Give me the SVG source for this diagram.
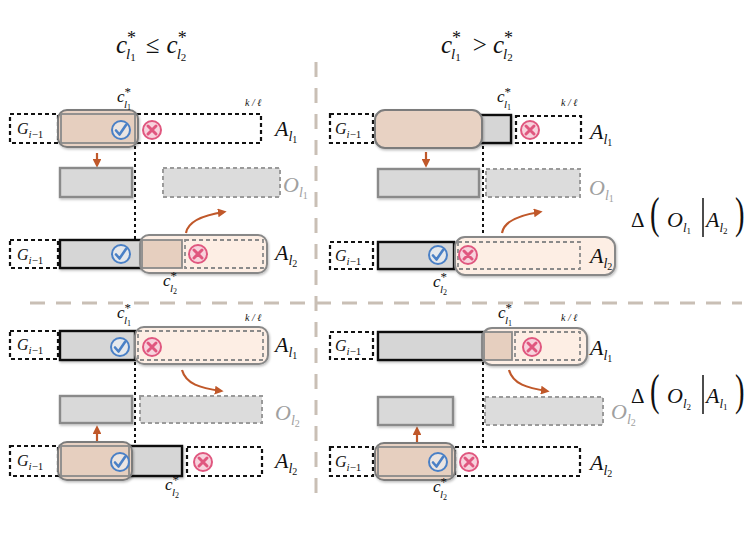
<svg xmlns="http://www.w3.org/2000/svg" xmlns:xlink="http://www.w3.org/1999/xlink" width="756" height="560" viewBox="0 0 756 560">
<style>
text{font-family:"Liberation Serif","Times New Roman","DejaVu Serif",serif;fill:#111}
.it{font-style:italic}
.up{font-style:normal}
.grey{fill:#a0a0a0}
.bd{fill:#fff;stroke:#111;stroke-width:2.2;stroke-dasharray:4 3}
.bs{fill:#d6d6d6;stroke:#111;stroke-width:2.4}
.gs{fill:#d9d9d9;stroke:#8a8a8a;stroke-width:2.4}
.gd{fill:#dcdcdc;stroke:#9a9a9a;stroke-width:2;stroke-dasharray:4 3}
.sd{fill:#e8d2c3;stroke:#7c7c7c;stroke-width:2}
.sl{fill:#fdeee4;stroke:#888;stroke-width:2}
.br{fill:#e6cfbf;stroke:#8a8a8a;stroke-width:1.8}
.id{fill:none;stroke:#8a8a8a;stroke-width:1.8;stroke-dasharray:4 3}
.dot{stroke:#111;stroke-width:2;stroke-dasharray:3 3;fill:none}
.sep{stroke:#c9bfb5;stroke-width:3;stroke-dasharray:15 11;fill:none}
.arr{stroke:#c0582a;stroke-width:2.2;fill:none;marker-end:url(#ah)}
.sh{filter:url(#shd)}
</style>
<defs>
<filter id="shd" x="-10%" y="-20%" width="130%" height="160%">
<feDropShadow dx="1" dy="1.5" stdDeviation="1" flood-color="#000" flood-opacity="0.25"/>
</filter>
<marker id="ah" viewBox="0 0 10 10" refX="7" refY="5" markerWidth="4" markerHeight="4" orient="auto">
<path d="M0,0 L10,5 L0,10 z" fill="#c0582a"/>
</marker>
<g id="chk"><circle r="9" fill="#eef3fa" fill-opacity="0.6" stroke="#4a80c6" stroke-width="2"/><path d="M-5,0.5 L-1.5,4.5 L5,-5" fill="none" stroke="#4a80c6" stroke-width="2.6" stroke-linecap="round" stroke-linejoin="round"/></g>
<g id="xx"><circle r="9" fill="#f7d3dd" stroke="#e0577f" stroke-width="2"/><path d="M-4,-4 L4,4 M4,-4 L-4,4" stroke="#e0577f" stroke-width="3" stroke-linecap="round"/></g>
</defs>
<rect width="756" height="560" fill="#fff"/>

<g id="separators">
<line class="sep" x1="30" y1="303" x2="742" y2="303"/>
<line class="sep" x1="316" y1="62" x2="316" y2="500"/>
</g>

<g id="header-left">
<text class="it" x="116" y="53" font-size="25">c<tspan class="up" font-size="18" dy="-9">*</tspan><tspan font-size="15" dx="-10" dy="15">l</tspan><tspan class="up" font-size="11" dy="2">1</tspan><tspan class="up" dx="10" dy="-8">≤</tspan><tspan dx="7">c</tspan><tspan class="up" font-size="18" dy="-9">*</tspan><tspan font-size="15" dx="-10" dy="15">l</tspan><tspan class="up" font-size="11" dy="2">2</tspan></text>
</g>
<g id="header-right">
<text class="it" x="441" y="53" font-size="25">c<tspan class="up" font-size="18" dy="-9">*</tspan><tspan font-size="15" dx="-10" dy="15">l</tspan><tspan class="up" font-size="11" dy="2">1</tspan><tspan class="up" dx="12" dy="-8">&gt;</tspan><tspan dx="6">c</tspan><tspan class="up" font-size="18" dy="-9">*</tspan><tspan font-size="15" dx="-10" dy="15">l</tspan><tspan class="up" font-size="11" dy="2">2</tspan></text>
</g>

<g id="connectors">
<line class="dot" x1="135" y1="146" x2="135" y2="270"/>
<line class="dot" x1="483" y1="146" x2="483" y2="270"/>
<line class="dot" x1="135" y1="362" x2="135" y2="448"/>
<line class="dot" x1="483" y1="362" x2="483" y2="476"/>
<line class="arr" x1="97" y1="153" x2="97" y2="165"/>
<line class="arr" x1="426" y1="152" x2="426" y2="165"/>
<line class="arr" x1="97" y1="441" x2="97" y2="428"/>
<line class="arr" x1="417" y1="442" x2="417" y2="429"/>
<path class="arr" d="M186,233 C188,221 204,215 224,212"/>
<path class="arr" d="M502,233 C504,221 520,215 540,212"/>
<path class="arr" d="M182,370 C186,384 200,388 221,391"/>
<path class="arr" d="M509,370 C513,384 527,388 547,391"/>
</g>

<g id="TL-Al1">
<rect class="bd" x="10" y="114" width="48" height="29"/>
<text class="it" x="17" y="134" font-size="16">G<tspan font-size="11" dy="4">i</tspan><tspan class="up" font-size="11">−1</tspan></text>
<rect class="bd" x="137" y="114" width="124" height="29"/>
<rect class="sd sh" x="58" y="110" width="80" height="37" rx="9"/>
<rect class="br" x="61" y="114" width="74" height="29"/>
<use xlink:href="#chk" x="121" y="130"/>
<use xlink:href="#xx" x="152" y="130"/>
<text class="it" x="117" y="102" font-size="17">c<tspan class="up" font-size="13" dy="-6">*</tspan><tspan font-size="11" dx="-7" dy="12">l</tspan><tspan class="up" font-size="8" dy="2">1</tspan></text>
<text class="it" x="245" y="106" font-size="10">k / ℓ</text>
<text class="it" x="275" y="136" font-size="22">A<tspan font-size="14" dy="5">l</tspan><tspan class="up" font-size="10" dy="2">1</tspan></text>
</g>
<g id="TL-Ol1">
<rect class="gs sh" x="60" y="168" width="72" height="29"/>
<rect class="gd" x="163" y="168" width="117" height="29"/>
<text class="it grey" x="283" y="192" font-size="22">O<tspan font-size="14" dy="5">l</tspan><tspan class="up" font-size="10" dy="2">1</tspan></text>
</g>
<g id="TL-Al2">
<rect class="bd" x="10" y="240" width="48" height="28"/>
<text class="it" x="17" y="260" font-size="16">G<tspan font-size="11" dy="4">i</tspan><tspan class="up" font-size="11">−1</tspan></text>
<rect class="bs sh" x="60" y="240" width="82" height="28"/>
<use xlink:href="#chk" x="121" y="254"/>
<rect class="sl sh" x="140" y="235" width="127" height="38" rx="9"/>
<rect class="br" x="142" y="240" width="40" height="28"/>
<rect class="id" x="185" y="240" width="78" height="28"/>
<use xlink:href="#xx" x="198" y="254"/>
<text class="it" x="275" y="260" font-size="22">A<tspan font-size="14" dy="5">l</tspan><tspan class="up" font-size="10" dy="2">2</tspan></text>
<text class="it" x="163" y="286" font-size="17">c<tspan class="up" font-size="13" dy="-6">*</tspan><tspan font-size="11" dx="-7" dy="12">l</tspan><tspan class="up" font-size="8" dy="2">2</tspan></text>
</g>

<g id="TR-Al1">
<rect class="bd" x="330" y="114" width="43" height="29"/>
<text class="it" x="335" y="134" font-size="16">G<tspan font-size="11" dy="4">i</tspan><tspan class="up" font-size="11">−1</tspan></text>
<rect class="bs sh" x="377" y="115" width="134" height="28"/>
<rect class="sd sh" x="375" y="110" width="107" height="38" rx="10"/>
<rect class="bd" x="516" y="116" width="65" height="27"/>
<use xlink:href="#xx" x="530" y="130"/>
<text class="it" x="497" y="102" font-size="17">c<tspan class="up" font-size="13" dy="-6">*</tspan><tspan font-size="11" dx="-7" dy="12">l</tspan><tspan class="up" font-size="8" dy="2">1</tspan></text>
<text class="it" x="561" y="106" font-size="10">k / ℓ</text>
<text class="it" x="590" y="139" font-size="22">A<tspan font-size="14" dy="5">l</tspan><tspan class="up" font-size="10" dy="2">1</tspan></text>
</g>
<g id="TR-Ol1">
<rect class="gs sh" x="378" y="169" width="101" height="28"/>
<rect class="gd" x="486" y="169" width="94" height="28"/>
<text class="it grey" x="589" y="195" font-size="22">O<tspan font-size="14" dy="5">l</tspan><tspan class="up" font-size="10" dy="2">1</tspan></text>
</g>
<g id="TR-Al2">
<rect class="bd" x="330" y="242" width="43" height="27"/>
<text class="it" x="335" y="261" font-size="16">G<tspan font-size="11" dy="4">i</tspan><tspan class="up" font-size="11">−1</tspan></text>
<rect class="bs sh" x="378" y="242" width="76" height="27"/>
<use xlink:href="#chk" x="438" y="255"/>
<rect class="sl sh" x="455" y="237" width="160" height="38" rx="10"/>
<rect class="id" x="458" y="242" width="122" height="27"/>
<use xlink:href="#xx" x="468" y="255"/>
<text class="it" x="590" y="263" font-size="22">A<tspan font-size="14" dy="5">l</tspan><tspan class="up" font-size="10" dy="2">2</tspan></text>
<text class="it" x="433" y="287" font-size="17">c<tspan class="up" font-size="13" dy="-6">*</tspan><tspan font-size="11" dx="-7" dy="12">l</tspan><tspan class="up" font-size="8" dy="2">2</tspan></text>
</g>

<g id="BL-Al1">
<rect class="bd" x="10" y="331" width="48" height="28"/>
<text class="it" x="17" y="350" font-size="16">G<tspan font-size="11" dy="4">i</tspan><tspan class="up" font-size="11">−1</tspan></text>
<rect class="bs sh" x="60" y="331" width="75" height="29"/>
<use xlink:href="#chk" x="120" y="347"/>
<rect class="sl sh" x="135" y="327" width="133" height="37" rx="9"/>
<rect class="id" x="138" y="331" width="125" height="29"/>
<use xlink:href="#xx" x="152" y="347"/>
<text class="it" x="117" y="318" font-size="17">c<tspan class="up" font-size="13" dy="-6">*</tspan><tspan font-size="11" dx="-7" dy="12">l</tspan><tspan class="up" font-size="8" dy="2">1</tspan></text>
<text class="it" x="245" y="321" font-size="10">k / ℓ</text>
<text class="it" x="275" y="352" font-size="22">A<tspan font-size="14" dy="5">l</tspan><tspan class="up" font-size="10" dy="2">1</tspan></text>
</g>
<g id="BL-Ol2">
<rect class="gs sh" x="60" y="396" width="72" height="27"/>
<rect class="gd" x="140" y="396" width="122" height="27"/>
<text class="it grey" x="275" y="420" font-size="22">O<tspan font-size="14" dy="5">l</tspan><tspan class="up" font-size="10" dy="2">2</tspan></text>
</g>
<g id="BL-Al2">
<rect class="bd" x="10" y="446" width="48" height="30"/>
<text class="it" x="17" y="466" font-size="16">G<tspan font-size="11" dy="4">i</tspan><tspan class="up" font-size="11">−1</tspan></text>
<rect class="bs sh" x="60" y="446" width="122" height="30"/>
<rect class="sd sh" x="58" y="442" width="74" height="38" rx="9"/>
<rect class="br" x="61" y="446" width="68" height="30"/>
<use xlink:href="#chk" x="120" y="462"/>
<rect class="bd" x="187" y="447" width="75" height="29"/>
<use xlink:href="#xx" x="203" y="462"/>
<text class="it" x="275" y="468" font-size="22">A<tspan font-size="14" dy="5">l</tspan><tspan class="up" font-size="10" dy="2">2</tspan></text>
<text class="it" x="165" y="490" font-size="17">c<tspan class="up" font-size="13" dy="-6">*</tspan><tspan font-size="11" dx="-7" dy="12">l</tspan><tspan class="up" font-size="8" dy="2">2</tspan></text>
</g>

<g id="BR-Al1">
<rect class="bd" x="330" y="332" width="43" height="27"/>
<text class="it" x="335" y="351" font-size="16">G<tspan font-size="11" dy="4">i</tspan><tspan class="up" font-size="11">−1</tspan></text>
<rect class="bs sh" x="378" y="332" width="105" height="28"/>
<rect class="sl sh" x="482" y="328" width="105" height="37" rx="10"/>
<rect class="br" x="484" y="332" width="28" height="28"/>
<rect class="id" x="515" y="332" width="65" height="28"/>
<use xlink:href="#xx" x="532" y="347"/>
<text class="it" x="498" y="318" font-size="17">c<tspan class="up" font-size="13" dy="-6">*</tspan><tspan font-size="11" dx="-7" dy="12">l</tspan><tspan class="up" font-size="8" dy="2">1</tspan></text>
<text class="it" x="561" y="321" font-size="10">k / ℓ</text>
<text class="it" x="590" y="355" font-size="22">A<tspan font-size="14" dy="5">l</tspan><tspan class="up" font-size="10" dy="2">1</tspan></text>
</g>
<g id="BR-Ol2">
<rect class="gs sh" x="378" y="397" width="75" height="28"/>
<rect class="gd" x="485" y="397" width="118" height="28"/>
<text class="it grey" x="611" y="419" font-size="22">O<tspan font-size="14" dy="5">l</tspan><tspan class="up" font-size="10" dy="2">2</tspan></text>
</g>
<g id="BR-Al2">
<rect class="bd" x="330" y="447" width="43" height="29"/>
<text class="it" x="335" y="467" font-size="16">G<tspan font-size="11" dy="4">i</tspan><tspan class="up" font-size="11">−1</tspan></text>
<rect class="bd" x="455" y="447" width="125" height="29"/>
<rect class="sd sh" x="375" y="443" width="80" height="37" rx="9"/>
<rect class="br" x="378" y="447" width="74" height="29"/>
<use xlink:href="#chk" x="438" y="462"/>
<use xlink:href="#xx" x="469" y="462"/>
<text class="it" x="590" y="470" font-size="22">A<tspan font-size="14" dy="5">l</tspan><tspan class="up" font-size="10" dy="2">2</tspan></text>
<text class="it" x="433" y="492" font-size="17">c<tspan class="up" font-size="13" dy="-6">*</tspan><tspan font-size="11" dx="-7" dy="12">l</tspan><tspan class="up" font-size="8" dy="2">2</tspan></text>
</g>

<g id="delta-top">
<text x="631" y="227" font-size="21">Δ</text>
<text x="650" y="228" font-size="44" transform="translate(650 0) scale(0.65 1) translate(-650 0)">(</text>
<text class="it" x="667" y="227" font-size="22">O<tspan font-size="13" dy="5">l</tspan><tspan class="up" font-size="9" dy="2">1</tspan></text>
<line x1="703" y1="198" x2="703" y2="237" stroke="#111" stroke-width="1.5"/>
<text class="it" x="706" y="227" font-size="22">A<tspan font-size="13" dy="5">l</tspan><tspan class="up" font-size="9" dy="2">2</tspan></text>
<text x="735" y="228" font-size="44" transform="translate(735 0) scale(0.65 1) translate(-735 0)">)</text>
</g>
<g id="delta-bottom">
<text x="631" y="403" font-size="21">Δ</text>
<text x="650" y="405" font-size="44" transform="translate(650 0) scale(0.65 1) translate(-650 0)">(</text>
<text class="it" x="667" y="403" font-size="22">O<tspan font-size="13" dy="5">l</tspan><tspan class="up" font-size="9" dy="2">2</tspan></text>
<line x1="703" y1="375" x2="703" y2="414" stroke="#111" stroke-width="1.5"/>
<text class="it" x="706" y="403" font-size="22">A<tspan font-size="13" dy="5">l</tspan><tspan class="up" font-size="9" dy="2">1</tspan></text>
<text x="735" y="405" font-size="44" transform="translate(735 0) scale(0.65 1) translate(-735 0)">)</text>
</g>
</svg>
